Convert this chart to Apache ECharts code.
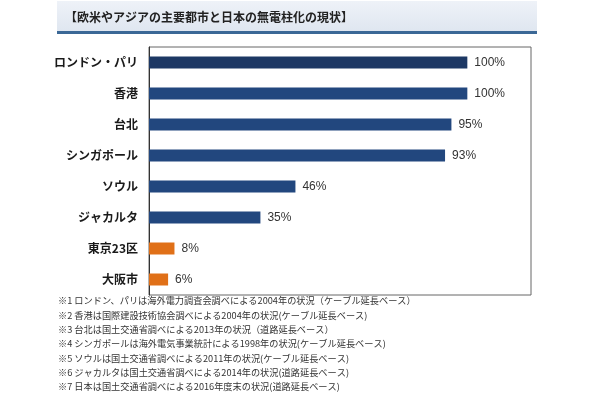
<!DOCTYPE html>
<html><head><meta charset="utf-8">
<script src="https://cdn.jsdelivr.net/npm/echarts@6/dist/echarts.min.js"></script>
<style>html,body{margin:0;padding:0;background:#fff}#c{width:590px;height:393px}</style>
</head><body><div id="c"></div>
<script>
var titleText = '【欧米やアジアの主要都市と日本の無電柱化の現状】';
var categories = ['ロンドン・パリ','香港','台北','シンガポール','ソウル','ジャカルタ','東京23区','大阪市'];
var values = [100,100,95,93,46,35,8,6];
var barColors = ['#1d3864','#22477e','#22477e','#22477e','#22477e','#22477e','#e07018','#e07018'];
var notes = [
 '※1 ロンドン、パリは海外電力調査会調べによる2004年の状況（ケーブル延長ベース）',
 '※2 香港は国際建設技術協会調べによる2004年の状況(ケーブル延長ベース)',
 '※3 台北は国土交通省調べによる2013年の状況（道路延長ベース）',
 '※4 シンガポールは海外電気事業統計による1998年の状況(ケーブル延長ベース)',
 '※5 ソウルは国土交通省調べによる2011年の状況(ケーブル延長ベース)',
 '※6 ジャカルタは国土交通省調べによる2014年の状況(道路延長ベース)',
 '※7 日本は国土交通省調べによる2016年度末の状況(道路延長ベース)'
];
var FONT = '"Noto Sans CJK JP", "Noto Sans", sans-serif';
var chart = echarts.init(document.getElementById('c'), null, {renderer:'canvas'});
var graphics = [
  {type:'rect', shape:{x:57,y:1,width:480,height:31}, style:{fill:new echarts.graphic.LinearGradient(0,0,0,1,[{offset:0,color:'#eef2f8'},{offset:1,color:'#dfe6f0'}])}, silent:true},
  {type:'rect', shape:{x:57,y:31,width:480,height:3}, style:{fill:'#3b6896'}, silent:true},
  {type:'text', x:65, y:17, style:{text:titleText, font:'bold 12px '+FONT, fill:'#222', textVerticalAlign:'middle'}, silent:true}
];
notes.forEach(function(n,i){
  graphics.push({type:'text', x:58, y:301+i*14.3, style:{text:n, font:'9.2px '+FONT, fill:'#333', textVerticalAlign:'middle'}, silent:true});
});
chart.setOption({
  animation:false,
  grid:{left:149, top:47, right:59, bottom:98, show:true, borderColor:'#666', borderWidth:1, backgroundColor:'#fff'},
  xAxis:{type:'value', min:0, max:120, show:false, splitLine:{show:false}},
  yAxis:{type:'category', data:categories, inverse:true,
    axisLine:{lineStyle:{color:'#333'}},
    axisTick:{inside:true, length:4, lineStyle:{color:'#333'}},
    axisLabel:{fontFamily:FONT, fontSize:12, fontWeight:'bold', color:'#1a1a1a', margin:11}},
  series:[{type:'bar', barWidth:12,
    data:values.map(function(v,i){return {value:v, itemStyle:{color:barColors[i]}};}),
    label:{show:true, position:'right', distance:7, formatter:'{c}%', fontFamily:'Liberation Sans, Arial, sans-serif', fontSize:12, color:'#333'}}],
  graphic:graphics
});
</script></body></html>
